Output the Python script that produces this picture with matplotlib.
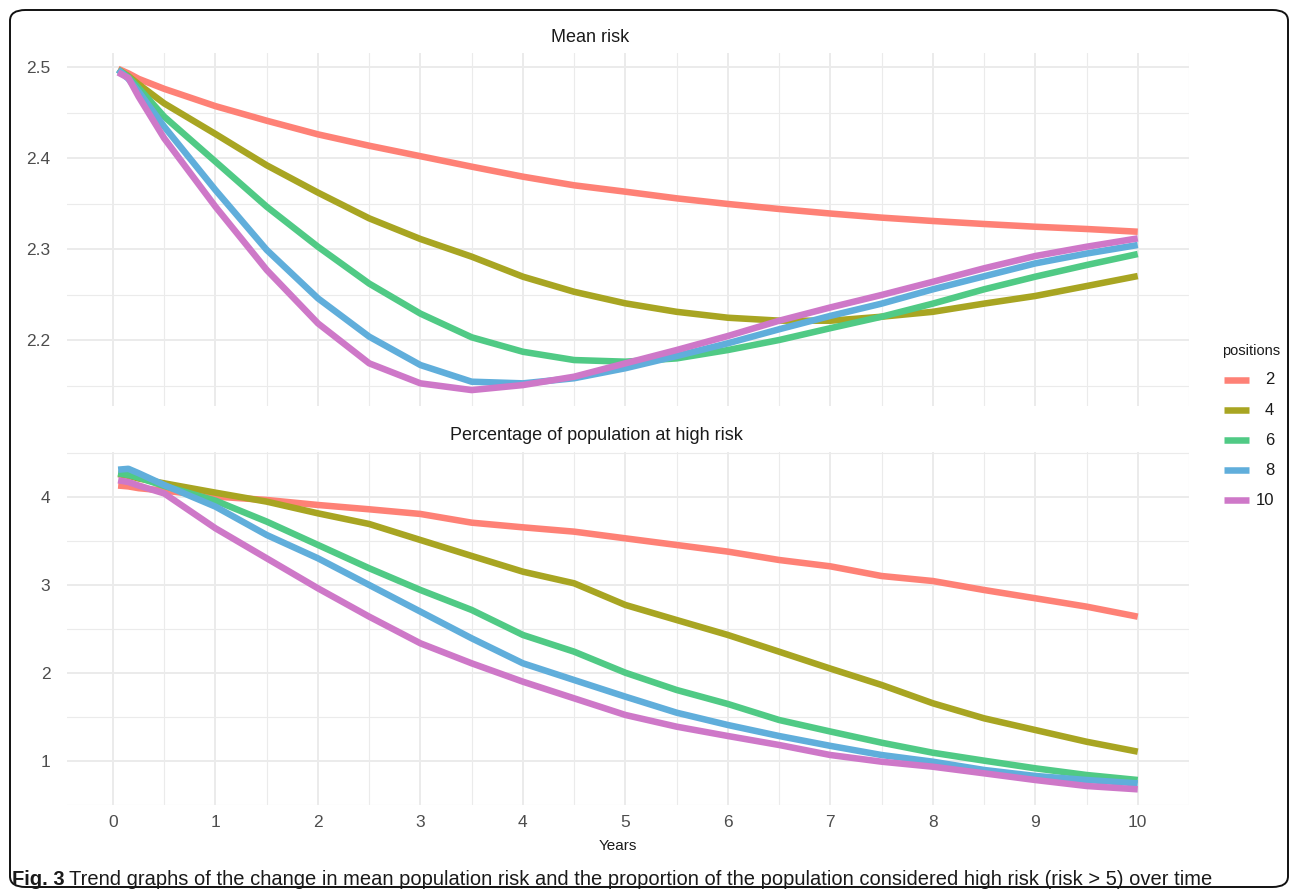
import matplotlib
matplotlib.use("Agg")
import matplotlib.pyplot as plt
from matplotlib.patches import FancyBboxPatch
from matplotlib.lines import Line2D

plt.rcParams['font.family'] = ['Liberation Sans', 'DejaVu Sans']

# ---------------- data ----------------
positions = ["2", "4", "6", "8", "10"]
colors = ["#FE8176", "#A8A522", "#50CA85", "#60AEDB", "#CE78C8"]

years_top = [0.05, 0.15, 0.25, 0.5, 1, 1.5, 2, 2.5, 3, 3.5, 4, 4.5, 5, 5.5, 6, 6.5, 7, 7.5, 8, 8.5, 9, 9.5, 10]
mean_risk_2 = [2.498, 2.493, 2.487, 2.476, 2.457, 2.441, 2.426, 2.4135, 2.402, 2.3905, 2.3795, 2.370, 2.363, 2.3557, 2.3495, 2.344, 2.339, 2.3345, 2.3308, 2.3275, 2.3245, 2.322, 2.319]
mean_risk_4 = [2.497, 2.490, 2.481, 2.460, 2.4264, 2.392, 2.362, 2.3337, 2.311, 2.2916, 2.2696, 2.253, 2.2403, 2.231, 2.2245, 2.2213, 2.2212, 2.2256, 2.231, 2.240, 2.2484, 2.2593, 2.2703]
mean_risk_6 = [2.497, 2.489, 2.477, 2.4454, 2.396, 2.3465, 2.3025, 2.262, 2.229, 2.203, 2.1871, 2.178, 2.1762, 2.1798, 2.189, 2.200, 2.213, 2.2256, 2.240, 2.2557, 2.2696, 2.2824, 2.2945]
mean_risk_8 = [2.497, 2.487, 2.473, 2.4344, 2.3648, 2.299, 2.2458, 2.2037, 2.1725, 2.1542, 2.1524, 2.158, 2.169, 2.1824, 2.1964, 2.2118, 2.2265, 2.240, 2.2557, 2.270, 2.2842, 2.295, 2.3044]
mean_risk_10 = [2.494, 2.488, 2.4674, 2.4216, 2.3465, 2.277, 2.2183, 2.1744, 2.1524, 2.145, 2.1505, 2.1597, 2.1744, 2.189, 2.2044, 2.2212, 2.2358, 2.2495, 2.264, 2.2788, 2.2923, 2.3025, 2.3117]

years_bot = [0.05, 0.15, 0.25, 0.5, 1, 1.5, 2, 2.5, 3, 3.5, 4, 4.5, 5, 5.5, 6, 6.5, 7, 7.5, 8, 8.5, 9, 9.5, 10]
high_risk_2 = [4.13, 4.12, 4.10, 4.072, 4.004, 3.966, 3.909, 3.86, 3.807, 3.708, 3.655, 3.606, 3.530, 3.4545, 3.379, 3.284, 3.212, 3.102, 3.045, 2.943, 2.849, 2.754, 2.64]
high_risk_4 = [4.26, 4.24, 4.21, 4.155, 4.049, 3.947, 3.814, 3.693, 3.511, 3.33, 3.151, 3.019, 2.773, 2.602, 2.432, 2.242, 2.05, 1.864, 1.656, 1.485, 1.352, 1.219, 1.106]
high_risk_6 = [4.27, 4.25, 4.22, 4.125, 3.958, 3.72, 3.455, 3.19, 2.943, 2.716, 2.432, 2.242, 2.003, 1.807, 1.648, 1.466, 1.335, 1.208, 1.094, 1.004, 0.917, 0.841, 0.784]
high_risk_8 = [4.31, 4.32, 4.27, 4.136, 3.89, 3.568, 3.303, 3.0, 2.697, 2.394, 2.11, 1.92, 1.731, 1.549, 1.409, 1.284, 1.172, 1.068, 0.992, 0.898, 0.83, 0.784, 0.746]
high_risk_10 = [4.19, 4.17, 4.13, 4.04, 3.644, 3.303, 2.962, 2.64, 2.337, 2.11, 1.901, 1.712, 1.523, 1.39, 1.284, 1.182, 1.068, 0.992, 0.935, 0.86, 0.784, 0.716, 0.678]

x_ticks = [0, 1, 2, 3, 4, 5, 6, 7, 8, 9, 10]
top_yticks = [2.2, 2.3, 2.4, 2.5]
bot_yticks = [1, 2, 3, 4]

mean_series = [mean_risk_2, mean_risk_4, mean_risk_6, mean_risk_8, mean_risk_10]
high_series = [high_risk_2, high_risk_4, high_risk_6, high_risk_8, high_risk_10]

# ---------------- figure ----------------
W, H = 1292, 896
fig = plt.figure(figsize=(W / 100, H / 100), dpi=100)

def fx(px):
    return px / W

def fy(py):
    return 1 - py / H

grid_c = "#EBEBEB"
tick_c = "#4D4D4D"
txt_c = "#1A1A1A"
lw = 4.7

ax_top = fig.add_axes([fx(67), fy(406), fx(1189) - fx(67), fy(53) - fy(406)])
ax_bot = fig.add_axes([fx(67), fy(805), fx(1189) - fx(67), fy(452) - fy(805)])

for ax, xs, series, yt in [(ax_top, years_top, mean_series, top_yticks),
                           (ax_bot, years_bot, high_series, bot_yticks)]:
    for ys, c in zip(series, colors):
        ax.plot(xs, ys, color=c, lw=lw, solid_capstyle='butt', solid_joinstyle='round', zorder=3)
    ax.set_xlim(-0.449, 10.4976)
    ax.set_xticks(x_ticks)
    ax.set_xticks([v + 0.5 for v in x_ticks[:-1]] + [10.5], minor=True)
    ax.set_yticks(yt)
    step = yt[1] - yt[0]
    ax.set_yticks([v - step / 2 for v in yt] + [yt[-1] + step / 2], minor=True)
    ax.grid(which='major', color=grid_c, lw=1.4, zorder=0)
    ax.grid(which='minor', color=grid_c, lw=0.8, zorder=0)
    for s in ax.spines.values():
        s.set_visible(False)
    ax.tick_params(which='both', length=0)
    ax.tick_params(axis='y', pad=12, labelsize=12.5, labelcolor=tick_c)
    ax.tick_params(axis='x', pad=7, labelsize=12.5, labelcolor=tick_c)
    ax.set_axisbelow(True)

ax_top.set_ylim(2.1275, 2.5154)
ax_top.set_yticklabels([f"{v:.1f}" for v in top_yticks])
ax_top.set_xticklabels([])
ax_bot.set_ylim(0.5, 4.511)
ax_bot.set_yticklabels([str(v) for v in bot_yticks])
ax_bot.set_xticklabels([str(v) for v in x_ticks])

fig.text(fx(590), fy(37), "Mean risk", ha='center', va='center', fontsize=13, color=txt_c)
fig.text(fx(596), fy(436), "Percentage of population at high risk", ha='center', va='center',
         fontsize=13, color=txt_c)
fig.text(fx(618), fy(846), "Years", ha='center', va='center', fontsize=11, color=txt_c)

# legend (manual, ggplot style)
fig.text(fx(1222), fy(351), "positions", ha='left', va='center', fontsize=10.5, color=txt_c)
for i, (lab, c) in enumerate(zip(positions, colors)):
    yy = 380 + 30 * i
    fig.add_artist(Line2D([fx(1224), fx(1249)], [fy(yy), fy(yy)], color=c, lw=lw,
                          solid_capstyle='butt', transform=fig.transFigure))
    fig.text(fx(1274), fy(yy), lab, ha='right', va='center', fontsize=12, color=txt_c)

# border
border = FancyBboxPatch((fx(10), fy(887)), fx(1288) - fx(10), fy(10) - fy(887),
                        boxstyle="round,pad=0,rounding_size=0.012", transform=fig.transFigure,
                        fill=False, edgecolor='#111111', lw=1.4)
fig.add_artist(border)

# caption
t1 = fig.text(fx(12), fy(879), "Fig. 3", ha='left', va='center', fontsize=14.5, fontweight='bold', color=txt_c)
fig.canvas.draw()
bb = t1.get_window_extent(fig.canvas.get_renderer())
fig.text(bb.x1 / W + fx(4), fy(879),
         "Trend graphs of the change in mean population risk and the proportion of the population considered high risk (risk > 5) over time",
         ha='left', va='center', fontsize=14.5, color=txt_c)

fig.savefig("out.png", dpi=100)
